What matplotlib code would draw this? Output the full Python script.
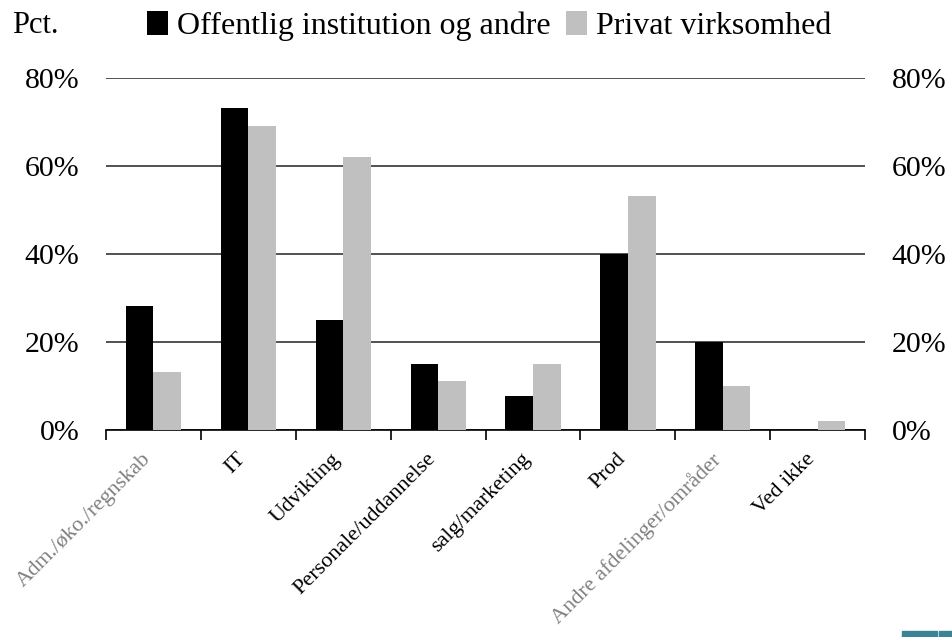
import matplotlib.pyplot as plt
import numpy as np
from matplotlib.patches import Rectangle
from matplotlib.transforms import ScaledTranslation

plt.rcParams['font.family'] = ['Liberation Serif', 'DejaVu Serif']

categories = ['Adm./øko./regnskab', 'IT', 'Udvikling', 'Personale/uddannelse',
              'salg/marketing', 'Prod', 'Andre afdelinger/områder', 'Ved ikke']
offentlig = [28, 73, 25, 15, 7.6, 40, 20, 0]
privat = [13, 69, 62, 11, 15, 53, 10, 2]
yticks = [0, 20, 40, 60, 80]
faded = ['Adm./øko./regnskab', 'Andre afdelinger/områder']

fig = plt.figure(figsize=(9.52, 6.37), dpi=100)
ax = fig.add_axes([0.111, 0.3257, 0.798, 0.5523])

x = np.arange(len(categories))
w = 0.29
ax.bar(x - w / 2, offentlig, w, color='black', label='Offentlig institution og andre', zorder=3)
ax.bar(x + w / 2, privat, w, color='#c0c0c0', label='Privat virksomhed', zorder=3)

ax.set_xlim(-0.5, len(categories) - 0.5)
ax.set_ylim(0, 80)
ax.set_yticks(yticks)
ax.set_yticklabels([f'{v}%' for v in yticks])
ax.yaxis.grid(True, color='#222222', linewidth=1.1, zorder=0)
ax.tick_params(axis='y', length=0, labelsize=21.5, labelleft=True, labelright=True, pad=19)

for s in ['top', 'left', 'right']:
    ax.spines[s].set_visible(False)
ax.spines['bottom'].set_linewidth(1.2)

# boundary ticks between categories, labels drawn by hand
ax.set_xticks(np.arange(-0.5, len(categories)), minor=True)
ax.tick_params(axis='x', which='minor', length=7, width=1.2, direction='out')
ax.set_xticks([])

shift = ScaledTranslation(-12 / 100, -20 / 100, fig.dpi_scale_trans)
for xi, name in zip(x, categories):
    ax.text(xi, 0, name, transform=ax.get_xaxis_transform() + shift,
            rotation=45, ha='right', va='top', rotation_mode='anchor',
            fontsize=16, color='#808080' if name in faded else 'black')

fig.text(0.013, 0.948, 'Pct.', fontsize=22, va='baseline', ha='left')
fig.legend(loc='center left', bbox_to_anchor=(0.1544, 0.959), ncol=2, frameon=False,
           fontsize=23, handlelength=0.65, handleheight=0.75, handletextpad=0.28,
           columnspacing=0.5, borderaxespad=0, borderpad=0)

fig.patches.append(Rectangle((0.948, 0.0), 0.036, 0.009, transform=fig.transFigure,
                             color='#3a8494'))
fig.patches.append(Rectangle((0.986, 0.0), 0.014, 0.009, transform=fig.transFigure,
                             color='#3a8494'))

fig.savefig('out.png', dpi=100)
